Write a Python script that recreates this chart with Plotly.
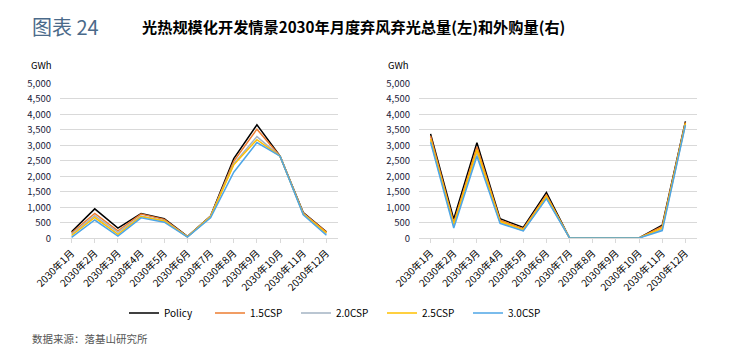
import plotly.graph_objects as go

W, H = 731, 355
OFF = 8  # page body margin offset


def px(x):
    return (x - OFF) / W


def py(y):
    return 1 - (y - OFF) / H


months = [f"2030年{i}月" for i in range(1, 13)]
series_names = ["Policy", "1.5CSP", "2.0CSP", "2.5CSP", "3.0CSP"]
colors = ["#000000", "#ED7D31", "#A3B3C3", "#FFC000", "#4EA6E6"]

# Left: monthly curtailment (GWh)
left_policy = [210, 950, 330, 800, 630, 60, 720, 2570, 3660, 2650, 830, 210]
left_15 = [170, 800, 240, 780, 610, 55, 710, 2480, 3520, 2650, 810, 200]
left_20 = [130, 730, 190, 720, 570, 50, 700, 2400, 3280, 2650, 790, 150]
left_25 = [90, 670, 130, 700, 560, 50, 690, 2370, 3180, 2650, 780, 170]
left_30 = [30, 590, 70, 660, 520, 40, 660, 2130, 3090, 2650, 760, 100]

# Right: monthly external purchase (GWh)
right_policy = [3370, 620, 3080, 630, 350, 1480, 10, 10, 10, 10, 420, 3770]
right_15 = [3300, 500, 2950, 580, 310, 1400, 10, 10, 10, 10, 380, 3740]
right_20 = [3150, 400, 2750, 510, 250, 1300, 10, 10, 10, 10, 290, 3680]
right_25 = [3200, 450, 2850, 540, 280, 1350, 10, 10, 10, 10, 330, 3710]
right_30 = [3100, 330, 2650, 480, 240, 1280, 10, 10, 10, 10, 250, 3650]

y_ticks = [0, 500, 1000, 1500, 2000, 2500, 3000, 3500, 4000, 4500, 5000]
y_ticktext = [f"{v:,}" for v in y_ticks]

left = [left_policy, left_15, left_20, left_25, left_30]
right = [right_policy, right_15, right_20, right_25, right_30]

fig = go.Figure()
for i, name in enumerate(series_names):
    fig.add_trace(go.Scatter(x=months, y=left[i], name=name, mode="lines",
                             line=dict(color=colors[i], width=1.5),
                             xaxis="x", yaxis="y", showlegend=True))
for i, name in enumerate(series_names):
    fig.add_trace(go.Scatter(x=months, y=right[i], name=name, mode="lines",
                             line=dict(color=colors[i], width=1.5),
                             xaxis="x2", yaxis="y2", showlegend=False))

y_bot = py(238.3)
y_top = py(83.3)
tickfont = dict(family="Noto Sans CJK SC, Open Sans, sans-serif", size=9.5, color="#1a1a3a")

common_x = dict(type="category", showgrid=False, showline=True, linecolor="#D9D9D9",
                linewidth=1, ticks="outside", ticklen=4, tickcolor="#D9D9D9",
                tickangle=-45, tickfont=dict(family="Noto Sans CJK SC, sans-serif", size=10, color="#000"),
                range=[-0.5, 11.5], zeroline=False, automargin=False)
common_y = dict(range=[0, 5000], tickvals=y_ticks, ticktext=y_ticktext,
                showgrid=True, gridcolor="#D9D9D9", gridwidth=1, zeroline=False,
                showline=False, tickfont=tickfont, ticks="", ticklabelstandoff=8,
                automargin=False)

fig.update_layout(
    width=W, height=H,
    margin=dict(l=0, r=0, t=0, b=0, autoexpand=False),
    paper_bgcolor="white", plot_bgcolor="white",
    xaxis=dict(domain=[px(60), px(338)], anchor="y", **common_x),
    yaxis=dict(domain=[y_bot, y_top], anchor="x", **common_y),
    xaxis2=dict(domain=[px(419), px(697)], anchor="y2", **common_x),
    yaxis2=dict(domain=[y_bot, y_top], anchor="x2", **common_y),
    legend=dict(orientation="h", x=px(124), xanchor="left", y=py(313), yanchor="middle",
                font=dict(family="Noto Sans CJK SC, sans-serif", size=10, color="#000"),
                itemwidth=30, entrywidth=41, entrywidthmode="pixels",
                bgcolor="rgba(0,0,0,0)"),
    showlegend=True,
)

annots = [
    dict(text="图表 24", x=px(30), y=py(26), xanchor="left", yanchor="middle",
         font=dict(family="Noto Sans CJK SC", size=20, color="#4A6A8A")),
    dict(text="<b>光热规模化开发情景2030年月度弃风弃光总量(左)和外购量(右)</b>", x=px(140), y=py(26),
         xanchor="left", yanchor="middle",
         font=dict(family="Noto Sans CJK SC", size=15.2, color="#000")),
    dict(text="GWh", x=px(41), y=py(65), xanchor="center", yanchor="middle",
         font=dict(family="Noto Sans CJK SC, sans-serif", size=9.5, color="#000")),
    dict(text="GWh", x=px(399), y=py(65), xanchor="center", yanchor="middle",
         font=dict(family="Noto Sans CJK SC, sans-serif", size=9.5, color="#000")),
    dict(text="数据来源：落基山研究所", x=px(30), y=py(338), xanchor="left", yanchor="middle",
         font=dict(family="Noto Sans CJK SC", size=10.5, color="#555555")),
]
for a in annots:
    fig.add_annotation(xref="paper", yref="paper", showarrow=False, **a)

fig.write_html("out.html")
